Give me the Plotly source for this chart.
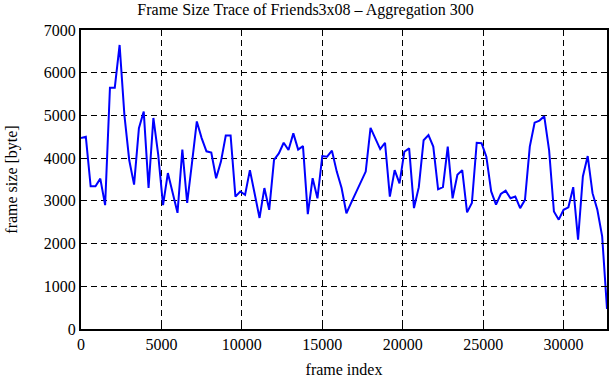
import plotly.graph_objects as go

# Aggregated frame sizes (every 300 frames)
frame_index = [i * 300 for i in range(110)]
frame_size = [
    4470, 4500, 3340, 3340, 3520, 2900, 5650, 5650, 6650, 5000,
    3950, 3380, 4700, 5090, 3300, 4940, 4080, 2900, 3650, 3190,
    2720, 4200, 2950, 3890, 4860, 4470, 4160, 4130, 3530, 3920,
    4530, 4530, 3100, 3220, 3140, 3720, 3180, 2600, 3300, 2790,
    3960, 4110, 4360, 4190, 4580, 4200, 4280, 2690, 3530, 3060,
    4050, 4035, 4175, 3685, 3300, 2710, 2960, 3200, 3450, 3685,
    4710, 4440, 4210, 4360, 3100, 3720, 3410, 4150, 4230, 2830,
    3320, 4420, 4540, 4270, 3270, 3320, 4270, 3060, 3610, 3720,
    2730, 2950, 4360, 4350, 4035, 3220, 2910, 3160, 3240, 3060,
    3100, 2830, 3020, 4270, 4830, 4880, 4980, 4190, 2750, 2560,
    2790, 2850, 3320, 2090, 3570, 4050, 3180, 2790, 2170, 470,
]

x_ticks = [0, 5000, 10000, 15000, 20000, 25000, 30000]
y_ticks = [0, 1000, 2000, 3000, 4000, 5000, 6000, 7000]

title_text = "Frame Size Trace of Friends3x08 – Aggregation 300"
x_title = "frame index"
y_title = "frame size [byte]"

FONT = "Liberation Serif, Times New Roman, serif"

fig = go.Figure()
fig.add_trace(go.Scatter(
    x=frame_index, y=frame_size, mode="lines",
    line=dict(color="#0000FF", width=2),
    showlegend=False,
))

axis_common = dict(
    showline=True, linecolor="black", linewidth=2, mirror="ticks",
    ticks="inside", ticklen=5, tickcolor="black", tickwidth=1,
    showgrid=True, gridcolor="black", gridwidth=1, griddash="6px,4px",
    zeroline=False,
    tickfont=dict(family=FONT, size=16, color="black"),
)

fig.update_layout(
    width=611, height=380,
    margin=dict(l=81, r=4, t=30, b=51, autoexpand=False),
    paper_bgcolor="white", plot_bgcolor="white",
    font=dict(family=FONT, size=16, color="black"),
    title=dict(text=title_text, x=0.5, xanchor="center", y=0.99, yanchor="top",
               font=dict(family=FONT, size=16, color="black")),
    xaxis=dict(range=[0, 32700], tickvals=x_ticks, ticktext=[str(v) for v in x_ticks],
               title=dict(text=x_title, standoff=12, font=dict(family=FONT, size=16)),
               automargin=False, **axis_common),
    yaxis=dict(range=[0, 7000], tickvals=y_ticks, ticktext=[str(v) for v in y_ticks],
               title=dict(text=y_title, standoff=22, font=dict(family=FONT, size=16)),
               automargin=False, **axis_common),
)

fig.write_html("out.html",
               config={"displayModeBar": False},
               post_script="document.body.style.margin='0';document.body.style.padding='0';")
